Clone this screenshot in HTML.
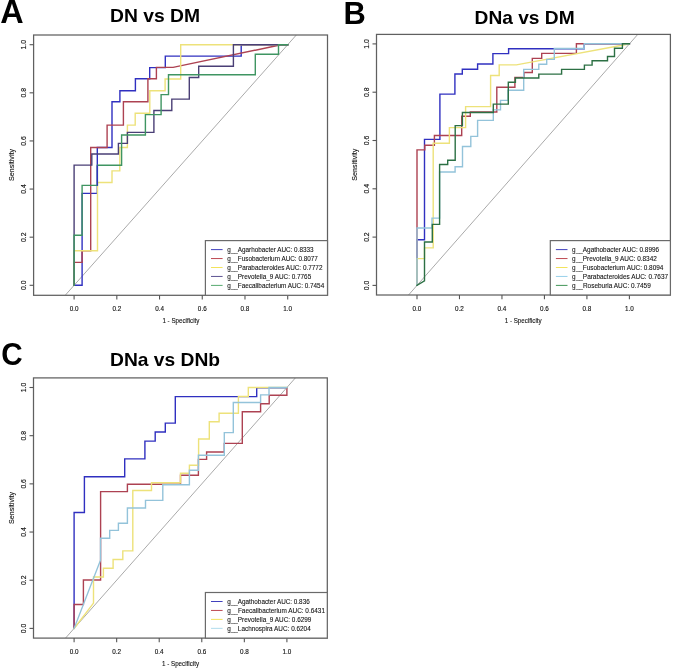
<!DOCTYPE html><html><head><meta charset="utf-8"><style>html,body{margin:0;padding:0;background:#fff;}svg{display:block;filter:blur(0.3px);}text{font-family:'Liberation Sans', sans-serif;}</style></head><body>
<svg width="673" height="670" viewBox="0 0 673 670">
<rect width="673" height="670" fill="#fff"/>
<text x="0.3" y="23.4" font-size="32.6" font-weight="bold" fill="#000" textLength="23.4" lengthAdjust="spacingAndGlyphs">A</text>
<text x="343.6" y="23.5" font-size="31.4" font-weight="bold" fill="#000" textLength="22.3" lengthAdjust="spacingAndGlyphs">B</text>
<text x="1.2" y="365.0" font-size="31" font-weight="bold" fill="#000" textLength="21.4" lengthAdjust="spacingAndGlyphs">C</text>
<text x="110.0" y="22.2" font-size="19" font-weight="bold" fill="#000" textLength="90" lengthAdjust="spacingAndGlyphs">DN vs DM</text>
<text x="474.6" y="24.2" font-size="19" font-weight="bold" fill="#000" textLength="100" lengthAdjust="spacingAndGlyphs">DNa vs DM</text>
<text x="110.0" y="366.4" font-size="19" font-weight="bold" fill="#000" textLength="110" lengthAdjust="spacingAndGlyphs">DNa vs DNb</text>
<clipPath id="clipA"><rect x="33.6" y="35.0" width="293.9" height="260.3"/></clipPath>
<line x1="52.74" y1="309.36" x2="309.06" y2="20.64" stroke="#aaaaaa" stroke-width="1.0" clip-path="url(#clipA)"/>
<path d="M74.1,285.3 L74.1,285.3 L82.1,285.3 L82.1,193.4 L97.3,193.4 L97.3,147.5 L112.0,147.5 L112.0,101.8 L119.9,101.8 L119.9,90.7 L135.4,90.7 L135.4,78.8 L149.7,78.8 L149.7,67.6 L165.3,67.6 L165.3,56.1 L241.2,56.1 L241.2,44.8 L287.7,44.8" fill="none" stroke="#3030c0" stroke-width="1.4" stroke-linejoin="miter" stroke-linecap="square"/>
<path d="M74.1,285.3 L74.1,262.4 L82.1,262.4 L82.1,250.7 L90.7,250.7 L90.7,147.5 L107.1,147.5 L107.1,125.1 L123.4,125.1 L123.4,101.7 L147.9,101.7 L147.9,78.8 L156.4,78.8 L156.4,67.4 L173.1,67.4 L281.0,44.8 L287.7,44.7" fill="none" stroke="#ad4252" stroke-width="1.4" stroke-linejoin="miter" stroke-linecap="square"/>
<path d="M74.1,285.3 L74.1,250.7 L97.5,250.7 L97.5,182.5 L112.0,182.5 L112.0,170.9 L119.8,170.9 L119.8,147.5 L127.4,147.5 L127.4,125.1 L135.2,125.1 L135.2,113.3 L149.8,113.3 L149.8,90.8 L165.1,90.8 L165.1,79.0 L180.7,79.0 L180.7,44.8 L287.7,44.8" fill="none" stroke="#ede27a" stroke-width="1.4" stroke-linejoin="miter" stroke-linecap="square"/>
<path d="M74.1,285.3 L74.1,165.1 L91.8,165.1 L91.8,154.0 L118.4,154.0 L118.4,143.4 L127.4,143.4 L127.4,132.4 L153.9,132.4 L153.9,110.5 L171.8,110.5 L171.8,99.1 L189.3,99.1 L189.3,77.5 L198.7,77.5 L198.7,66.2 L233.4,66.2 L233.4,44.8 L287.7,44.8" fill="none" stroke="#4a3f76" stroke-width="1.4" stroke-linejoin="miter" stroke-linecap="square"/>
<path d="M74.1,285.3 L74.1,235.2 L82.1,235.2 L82.1,185.4 L97.4,185.4 L97.4,165.3 L121.6,165.3 L121.6,135.0 L145.4,135.0 L145.4,114.6 L161.1,114.6 L161.1,94.6 L168.5,94.6 L168.5,74.8 L255.3,74.8 L255.3,54.2 L278.5,54.2 L278.5,44.8 L287.7,44.8" fill="none" stroke="#3f9562" stroke-width="1.4" stroke-linejoin="miter" stroke-linecap="square"/>
<path d="M97.3,185.0 L97.3,166.0" fill="none" stroke="#3030c0" stroke-width="1.3" stroke-linejoin="miter" stroke-linecap="square"/>
<rect x="33.6" y="35.0" width="293.90" height="260.30" fill="none" stroke="#606060" stroke-width="1.25"/>
<line x1="74.10" y1="295.3" x2="74.10" y2="299.50" stroke="#555" stroke-width="1.1"/>
<line x1="29.60" y1="285.30" x2="33.6" y2="285.30" stroke="#555" stroke-width="1.1"/>
<text x="74.10" y="310.90" font-size="7.6" fill="#111" stroke="#111" stroke-width="0.15" text-anchor="middle" textLength="8.8" lengthAdjust="spacingAndGlyphs">0.0</text>
<text transform="translate(25.60,285.30) rotate(-90)" x="0" y="0" font-size="7.6" fill="#111" stroke="#111" stroke-width="0.15" text-anchor="middle" textLength="9.5" lengthAdjust="spacingAndGlyphs">0.0</text>
<line x1="116.82" y1="295.3" x2="116.82" y2="299.50" stroke="#555" stroke-width="1.1"/>
<line x1="29.60" y1="237.18" x2="33.6" y2="237.18" stroke="#555" stroke-width="1.1"/>
<text x="116.82" y="310.90" font-size="7.6" fill="#111" stroke="#111" stroke-width="0.15" text-anchor="middle" textLength="8.8" lengthAdjust="spacingAndGlyphs">0.2</text>
<text transform="translate(25.60,237.18) rotate(-90)" x="0" y="0" font-size="7.6" fill="#111" stroke="#111" stroke-width="0.15" text-anchor="middle" textLength="9.5" lengthAdjust="spacingAndGlyphs">0.2</text>
<line x1="159.54" y1="295.3" x2="159.54" y2="299.50" stroke="#555" stroke-width="1.1"/>
<line x1="29.60" y1="189.06" x2="33.6" y2="189.06" stroke="#555" stroke-width="1.1"/>
<text x="159.54" y="310.90" font-size="7.6" fill="#111" stroke="#111" stroke-width="0.15" text-anchor="middle" textLength="8.8" lengthAdjust="spacingAndGlyphs">0.4</text>
<text transform="translate(25.60,189.06) rotate(-90)" x="0" y="0" font-size="7.6" fill="#111" stroke="#111" stroke-width="0.15" text-anchor="middle" textLength="9.5" lengthAdjust="spacingAndGlyphs">0.4</text>
<line x1="202.26" y1="295.3" x2="202.26" y2="299.50" stroke="#555" stroke-width="1.1"/>
<line x1="29.60" y1="140.94" x2="33.6" y2="140.94" stroke="#555" stroke-width="1.1"/>
<text x="202.26" y="310.90" font-size="7.6" fill="#111" stroke="#111" stroke-width="0.15" text-anchor="middle" textLength="8.8" lengthAdjust="spacingAndGlyphs">0.6</text>
<text transform="translate(25.60,140.94) rotate(-90)" x="0" y="0" font-size="7.6" fill="#111" stroke="#111" stroke-width="0.15" text-anchor="middle" textLength="9.5" lengthAdjust="spacingAndGlyphs">0.6</text>
<line x1="244.98" y1="295.3" x2="244.98" y2="299.50" stroke="#555" stroke-width="1.1"/>
<line x1="29.60" y1="92.82" x2="33.6" y2="92.82" stroke="#555" stroke-width="1.1"/>
<text x="244.98" y="310.90" font-size="7.6" fill="#111" stroke="#111" stroke-width="0.15" text-anchor="middle" textLength="8.8" lengthAdjust="spacingAndGlyphs">0.8</text>
<text transform="translate(25.60,92.82) rotate(-90)" x="0" y="0" font-size="7.6" fill="#111" stroke="#111" stroke-width="0.15" text-anchor="middle" textLength="9.5" lengthAdjust="spacingAndGlyphs">0.8</text>
<line x1="287.70" y1="295.3" x2="287.70" y2="299.50" stroke="#555" stroke-width="1.1"/>
<line x1="29.60" y1="44.70" x2="33.6" y2="44.70" stroke="#555" stroke-width="1.1"/>
<text x="287.70" y="310.90" font-size="7.6" fill="#111" stroke="#111" stroke-width="0.15" text-anchor="middle" textLength="8.8" lengthAdjust="spacingAndGlyphs">1.0</text>
<text transform="translate(25.60,44.70) rotate(-90)" x="0" y="0" font-size="7.6" fill="#111" stroke="#111" stroke-width="0.15" text-anchor="middle" textLength="9.5" lengthAdjust="spacingAndGlyphs">1.0</text>
<text x="180.90" y="323.30" font-size="7.6" fill="#111" stroke="#111" stroke-width="0.12" text-anchor="middle" textLength="37" lengthAdjust="spacingAndGlyphs">1 - Specificity</text>
<text transform="translate(14.20,165.00) rotate(-90)" x="0" y="0" font-size="7.6" fill="#111" stroke="#111" stroke-width="0.12" text-anchor="middle" textLength="32" lengthAdjust="spacingAndGlyphs">Sensitivity</text>
<rect x="205.4" y="240.6" width="122.10" height="54.70" fill="#fff" stroke="#6a6a6a" stroke-width="1.2"/>
<line x1="211.00" y1="249.60" x2="222.60" y2="249.60" stroke="#2b2bb5" stroke-width="0.9"/>
<text x="227.20" y="252.40" font-size="7.7" fill="#111" stroke="#111" stroke-width="0.1" textLength="86.3" lengthAdjust="spacingAndGlyphs">g__Agarhobacter AUC: 0.8333</text>
<line x1="211.00" y1="258.55" x2="222.60" y2="258.55" stroke="#b5343e" stroke-width="0.9"/>
<text x="227.20" y="261.35" font-size="7.7" fill="#111" stroke="#111" stroke-width="0.1" textLength="90.7" lengthAdjust="spacingAndGlyphs">g__Fusobacterium AUC: 0.8077</text>
<line x1="211.00" y1="267.50" x2="222.60" y2="267.50" stroke="#f0e04a" stroke-width="0.9"/>
<text x="227.20" y="270.30" font-size="7.7" fill="#111" stroke="#111" stroke-width="0.1" textLength="95.3" lengthAdjust="spacingAndGlyphs">g__Parabacteroides AUC: 0.7772</text>
<line x1="211.00" y1="276.45" x2="222.60" y2="276.45" stroke="#4a3f85" stroke-width="0.9"/>
<text x="227.20" y="279.25" font-size="7.7" fill="#111" stroke="#111" stroke-width="0.1" textLength="84.0" lengthAdjust="spacingAndGlyphs">g__Prevotella_9 AUC: 0.7765</text>
<line x1="211.00" y1="285.40" x2="222.60" y2="285.40" stroke="#44a060" stroke-width="0.9"/>
<text x="227.20" y="288.20" font-size="7.7" fill="#111" stroke="#111" stroke-width="0.1" textLength="97.0" lengthAdjust="spacingAndGlyphs">g__Faecalibacterium AUC: 0.7454</text>
<clipPath id="clipB"><rect x="376.5" y="34.4" width="293.9" height="260.6"/></clipPath>
<line x1="395.76" y1="309.55" x2="650.64" y2="19.75" stroke="#aaaaaa" stroke-width="1.0" clip-path="url(#clipB)"/>
<path d="M417.0,285.4 L417.0,239.8 L424.5,239.8 L424.5,139.4 L439.9,139.4 L439.9,94.1 L454.9,94.1 L454.9,74.0 L462.3,74.0 L462.3,69.3 L477.6,69.3 L477.6,64.0 L492.9,64.0 L492.9,53.6 L508.6,53.6 L508.6,48.7 L584.2,48.7 L584.2,43.8 L629.4,43.8" fill="none" stroke="#3030c0" stroke-width="1.4" stroke-linejoin="miter" stroke-linecap="square"/>
<path d="M417.0,285.4 L417.0,149.9 L424.8,149.9 L424.8,145.3 L434.4,145.3 L434.4,135.5 L461.7,135.5 L461.7,116.2 L470.3,116.2 L470.3,112.0 L496.8,112.0 L496.8,87.2 L514.9,87.2 L514.9,77.4 L524.0,77.4 L524.0,72.5 L532.3,72.5 L532.3,58.4 L541.7,58.4 L541.7,53.4 L576.4,53.4 L576.4,43.8 L629.4,43.8" fill="none" stroke="#ad4252" stroke-width="1.4" stroke-linejoin="miter" stroke-linecap="square"/>
<path d="M417.0,285.4 L417.0,258.6 L424.5,258.6 L424.5,247.9 L433.2,247.9 L433.2,143.2 L449.4,143.2 L449.4,127.6 L465.6,127.6 L465.6,106.6 L490.6,106.6 L490.6,75.5 L499.2,75.5 L499.2,64.9 L516.4,64.9 L629.4,43.9" fill="none" stroke="#ede27a" stroke-width="1.4" stroke-linejoin="miter" stroke-linecap="square"/>
<path d="M417.0,285.4 L417.0,228.0 L432.0,228.0 L432.0,218.1 L439.6,218.1 L439.6,172.0 L455.1,172.0 L455.1,166.8 L462.5,166.8 L462.5,146.5 L470.8,146.5 L470.8,136.4 L477.6,136.4 L477.6,120.4 L493.3,120.4 L493.3,109.9 L500.5,109.9 L500.5,100.4 L508.0,100.4 L508.0,90.2 L523.7,90.2 L523.7,69.4 L538.8,69.4 L538.8,64.3 L546.7,64.3 L546.7,59.4 L554.3,59.4 L554.3,48.5 L584.2,48.5 L584.2,43.8 L629.4,43.8" fill="none" stroke="#93c3da" stroke-width="1.4" stroke-linejoin="miter" stroke-linecap="square"/>
<path d="M417.0,285.4 L424.5,280.8 L424.5,242.0 L432.3,242.0 L432.3,224.4 L439.6,224.4 L439.6,164.5 L447.7,164.5 L447.7,160.2 L455.2,160.2 L455.2,125.6 L462.4,125.6 L462.4,112.5 L493.3,112.5 L493.3,104.1 L508.3,104.1 L508.3,82.3 L515.4,82.3 L515.4,78.0 L538.8,78.0 L538.8,74.1 L561.6,74.1 L561.6,69.4 L584.4,69.4 L584.4,65.1 L592.1,65.1 L592.1,60.8 L607.5,60.8 L607.5,56.5 L614.5,56.5 L614.5,48.2 L622.4,48.2 L622.4,43.8 L629.4,43.8" fill="none" stroke="#2c7044" stroke-width="1.4" stroke-linejoin="miter" stroke-linecap="square"/>
<rect x="376.5" y="34.4" width="293.90" height="260.60" fill="none" stroke="#606060" stroke-width="1.25"/>
<line x1="417.00" y1="295.0" x2="417.00" y2="299.20" stroke="#555" stroke-width="1.1"/>
<line x1="372.50" y1="285.40" x2="376.5" y2="285.40" stroke="#555" stroke-width="1.1"/>
<text x="417.00" y="310.60" font-size="7.6" fill="#111" stroke="#111" stroke-width="0.15" text-anchor="middle" textLength="8.8" lengthAdjust="spacingAndGlyphs">0.0</text>
<text transform="translate(368.50,285.40) rotate(-90)" x="0" y="0" font-size="7.6" fill="#111" stroke="#111" stroke-width="0.15" text-anchor="middle" textLength="9.5" lengthAdjust="spacingAndGlyphs">0.0</text>
<line x1="459.48" y1="295.0" x2="459.48" y2="299.20" stroke="#555" stroke-width="1.1"/>
<line x1="372.50" y1="237.10" x2="376.5" y2="237.10" stroke="#555" stroke-width="1.1"/>
<text x="459.48" y="310.60" font-size="7.6" fill="#111" stroke="#111" stroke-width="0.15" text-anchor="middle" textLength="8.8" lengthAdjust="spacingAndGlyphs">0.2</text>
<text transform="translate(368.50,237.10) rotate(-90)" x="0" y="0" font-size="7.6" fill="#111" stroke="#111" stroke-width="0.15" text-anchor="middle" textLength="9.5" lengthAdjust="spacingAndGlyphs">0.2</text>
<line x1="501.96" y1="295.0" x2="501.96" y2="299.20" stroke="#555" stroke-width="1.1"/>
<line x1="372.50" y1="188.80" x2="376.5" y2="188.80" stroke="#555" stroke-width="1.1"/>
<text x="501.96" y="310.60" font-size="7.6" fill="#111" stroke="#111" stroke-width="0.15" text-anchor="middle" textLength="8.8" lengthAdjust="spacingAndGlyphs">0.4</text>
<text transform="translate(368.50,188.80) rotate(-90)" x="0" y="0" font-size="7.6" fill="#111" stroke="#111" stroke-width="0.15" text-anchor="middle" textLength="9.5" lengthAdjust="spacingAndGlyphs">0.4</text>
<line x1="544.44" y1="295.0" x2="544.44" y2="299.20" stroke="#555" stroke-width="1.1"/>
<line x1="372.50" y1="140.50" x2="376.5" y2="140.50" stroke="#555" stroke-width="1.1"/>
<text x="544.44" y="310.60" font-size="7.6" fill="#111" stroke="#111" stroke-width="0.15" text-anchor="middle" textLength="8.8" lengthAdjust="spacingAndGlyphs">0.6</text>
<text transform="translate(368.50,140.50) rotate(-90)" x="0" y="0" font-size="7.6" fill="#111" stroke="#111" stroke-width="0.15" text-anchor="middle" textLength="9.5" lengthAdjust="spacingAndGlyphs">0.6</text>
<line x1="586.92" y1="295.0" x2="586.92" y2="299.20" stroke="#555" stroke-width="1.1"/>
<line x1="372.50" y1="92.20" x2="376.5" y2="92.20" stroke="#555" stroke-width="1.1"/>
<text x="586.92" y="310.60" font-size="7.6" fill="#111" stroke="#111" stroke-width="0.15" text-anchor="middle" textLength="8.8" lengthAdjust="spacingAndGlyphs">0.8</text>
<text transform="translate(368.50,92.20) rotate(-90)" x="0" y="0" font-size="7.6" fill="#111" stroke="#111" stroke-width="0.15" text-anchor="middle" textLength="9.5" lengthAdjust="spacingAndGlyphs">0.8</text>
<line x1="629.40" y1="295.0" x2="629.40" y2="299.20" stroke="#555" stroke-width="1.1"/>
<line x1="372.50" y1="43.90" x2="376.5" y2="43.90" stroke="#555" stroke-width="1.1"/>
<text x="629.40" y="310.60" font-size="7.6" fill="#111" stroke="#111" stroke-width="0.15" text-anchor="middle" textLength="8.8" lengthAdjust="spacingAndGlyphs">1.0</text>
<text transform="translate(368.50,43.90) rotate(-90)" x="0" y="0" font-size="7.6" fill="#111" stroke="#111" stroke-width="0.15" text-anchor="middle" textLength="9.5" lengthAdjust="spacingAndGlyphs">1.0</text>
<text x="523.20" y="323.00" font-size="7.6" fill="#111" stroke="#111" stroke-width="0.12" text-anchor="middle" textLength="37" lengthAdjust="spacingAndGlyphs">1 - Specificity</text>
<text transform="translate(357.10,164.65) rotate(-90)" x="0" y="0" font-size="7.6" fill="#111" stroke="#111" stroke-width="0.12" text-anchor="middle" textLength="32" lengthAdjust="spacingAndGlyphs">Sensitivity</text>
<rect x="550.3" y="240.6" width="120.10" height="54.40" fill="#fff" stroke="#6a6a6a" stroke-width="1.2"/>
<line x1="555.90" y1="249.60" x2="567.50" y2="249.60" stroke="#2b2bb5" stroke-width="0.9"/>
<text x="572.10" y="252.40" font-size="7.7" fill="#111" stroke="#111" stroke-width="0.1" textLength="87.0" lengthAdjust="spacingAndGlyphs">g__Agathobacter AUC: 0.8996</text>
<line x1="555.90" y1="258.55" x2="567.50" y2="258.55" stroke="#b5343e" stroke-width="0.9"/>
<text x="572.10" y="261.35" font-size="7.7" fill="#111" stroke="#111" stroke-width="0.1" textLength="84.7" lengthAdjust="spacingAndGlyphs">g__Prevotella_9 AUC: 0.8342</text>
<line x1="555.90" y1="267.50" x2="567.50" y2="267.50" stroke="#f0e04a" stroke-width="0.9"/>
<text x="572.10" y="270.30" font-size="7.7" fill="#111" stroke="#111" stroke-width="0.1" textLength="91.3" lengthAdjust="spacingAndGlyphs">g__Fusobacterium AUC: 0.8094</text>
<line x1="555.90" y1="276.45" x2="567.50" y2="276.45" stroke="#8ccbe8" stroke-width="0.9"/>
<text x="572.10" y="279.25" font-size="7.7" fill="#111" stroke="#111" stroke-width="0.1" textLength="96.0" lengthAdjust="spacingAndGlyphs">g__Parabacteroides AUC: 0.7637</text>
<line x1="555.90" y1="285.40" x2="567.50" y2="285.40" stroke="#2d8a45" stroke-width="0.9"/>
<text x="572.10" y="288.20" font-size="7.7" fill="#111" stroke="#111" stroke-width="0.1" textLength="78.7" lengthAdjust="spacingAndGlyphs">g__Roseburia AUC: 0.7459</text>
<clipPath id="clipC"><rect x="33.5" y="377.9" width="293.8" height="260.20000000000005"/></clipPath>
<line x1="52.82" y1="652.49" x2="308.18" y2="363.41" stroke="#aaaaaa" stroke-width="1.0" clip-path="url(#clipC)"/>
<path d="M74.1,628.4 L74.1,512.5 L84.4,512.5 L84.4,476.7 L124.7,476.7 L124.7,458.9 L144.9,458.9 L144.9,441.1 L155.2,441.1 L155.2,432.0 L165.3,432.0 L165.3,423.1 L175.3,423.1 L175.3,396.6 L256.7,396.6 L256.7,387.7 L286.9,387.7" fill="none" stroke="#3030c0" stroke-width="1.4" stroke-linejoin="miter" stroke-linecap="square"/>
<path d="M74.1,628.4 L74.1,604.5 L83.4,604.5 L83.4,580.0 L100.6,580.0 L100.6,491.6 L127.4,491.6 L127.4,484.3 L180.5,484.3 L180.5,475.2 L198.4,475.2 L198.4,459.4 L206.6,459.4 L206.6,452.0 L224.3,452.0 L224.3,443.4 L242.3,443.4 L242.3,411.7 L260.6,411.7 L260.6,403.7 L269.2,403.7 L269.2,395.3 L286.9,395.3 L286.9,387.6" fill="none" stroke="#ad4252" stroke-width="1.4" stroke-linejoin="miter" stroke-linecap="square"/>
<path d="M74.1,628.4 L93.5,603.1 L93.5,577.0 L103.4,577.0 L103.4,568.3 L113.1,568.3 L113.1,559.5 L122.8,559.5 L122.8,550.9 L132.8,550.9 L132.8,490.5 L151.5,490.5 L151.5,482.8 L180.5,482.8 L180.5,473.2 L189.4,473.2 L189.4,465.2 L198.6,465.2 L198.6,439.0 L209.3,439.0 L209.3,421.7 L219.1,421.7 L219.1,413.3 L238.4,413.3 L238.4,396.5 L248.3,396.5 L248.3,387.5 L286.9,387.5" fill="none" stroke="#ede27a" stroke-width="1.4" stroke-linejoin="miter" stroke-linecap="square"/>
<path d="M74.1,628.4 L100.5,560.2 L100.5,538.3 L109.7,538.3 L109.7,530.4 L118.4,530.4 L118.4,523.2 L127.4,523.2 L127.4,508.0 L145.5,508.0 L145.5,500.4 L162.8,500.4 L162.8,484.8 L189.4,484.8 L189.4,470.2 L198.4,470.2 L198.4,455.2 L224.3,455.2 L224.3,432.6 L233.3,432.6 L233.3,402.5 L260.6,402.5 L260.6,394.9 L269.0,394.9 L269.0,387.5 L286.9,387.5" fill="none" stroke="#93c3da" stroke-width="1.4" stroke-linejoin="miter" stroke-linecap="square"/>
<rect x="33.5" y="377.9" width="293.80" height="260.20" fill="none" stroke="#606060" stroke-width="1.25"/>
<line x1="74.10" y1="638.1" x2="74.10" y2="642.30" stroke="#555" stroke-width="1.1"/>
<line x1="29.50" y1="628.40" x2="33.5" y2="628.40" stroke="#555" stroke-width="1.1"/>
<text x="74.10" y="653.70" font-size="7.6" fill="#111" stroke="#111" stroke-width="0.15" text-anchor="middle" textLength="8.8" lengthAdjust="spacingAndGlyphs">0.0</text>
<text transform="translate(25.50,628.40) rotate(-90)" x="0" y="0" font-size="7.6" fill="#111" stroke="#111" stroke-width="0.15" text-anchor="middle" textLength="9.5" lengthAdjust="spacingAndGlyphs">0.0</text>
<line x1="116.66" y1="638.1" x2="116.66" y2="642.30" stroke="#555" stroke-width="1.1"/>
<line x1="29.50" y1="580.22" x2="33.5" y2="580.22" stroke="#555" stroke-width="1.1"/>
<text x="116.66" y="653.70" font-size="7.6" fill="#111" stroke="#111" stroke-width="0.15" text-anchor="middle" textLength="8.8" lengthAdjust="spacingAndGlyphs">0.2</text>
<text transform="translate(25.50,580.22) rotate(-90)" x="0" y="0" font-size="7.6" fill="#111" stroke="#111" stroke-width="0.15" text-anchor="middle" textLength="9.5" lengthAdjust="spacingAndGlyphs">0.2</text>
<line x1="159.22" y1="638.1" x2="159.22" y2="642.30" stroke="#555" stroke-width="1.1"/>
<line x1="29.50" y1="532.04" x2="33.5" y2="532.04" stroke="#555" stroke-width="1.1"/>
<text x="159.22" y="653.70" font-size="7.6" fill="#111" stroke="#111" stroke-width="0.15" text-anchor="middle" textLength="8.8" lengthAdjust="spacingAndGlyphs">0.4</text>
<text transform="translate(25.50,532.04) rotate(-90)" x="0" y="0" font-size="7.6" fill="#111" stroke="#111" stroke-width="0.15" text-anchor="middle" textLength="9.5" lengthAdjust="spacingAndGlyphs">0.4</text>
<line x1="201.78" y1="638.1" x2="201.78" y2="642.30" stroke="#555" stroke-width="1.1"/>
<line x1="29.50" y1="483.86" x2="33.5" y2="483.86" stroke="#555" stroke-width="1.1"/>
<text x="201.78" y="653.70" font-size="7.6" fill="#111" stroke="#111" stroke-width="0.15" text-anchor="middle" textLength="8.8" lengthAdjust="spacingAndGlyphs">0.6</text>
<text transform="translate(25.50,483.86) rotate(-90)" x="0" y="0" font-size="7.6" fill="#111" stroke="#111" stroke-width="0.15" text-anchor="middle" textLength="9.5" lengthAdjust="spacingAndGlyphs">0.6</text>
<line x1="244.34" y1="638.1" x2="244.34" y2="642.30" stroke="#555" stroke-width="1.1"/>
<line x1="29.50" y1="435.68" x2="33.5" y2="435.68" stroke="#555" stroke-width="1.1"/>
<text x="244.34" y="653.70" font-size="7.6" fill="#111" stroke="#111" stroke-width="0.15" text-anchor="middle" textLength="8.8" lengthAdjust="spacingAndGlyphs">0.8</text>
<text transform="translate(25.50,435.68) rotate(-90)" x="0" y="0" font-size="7.6" fill="#111" stroke="#111" stroke-width="0.15" text-anchor="middle" textLength="9.5" lengthAdjust="spacingAndGlyphs">0.8</text>
<line x1="286.90" y1="638.1" x2="286.90" y2="642.30" stroke="#555" stroke-width="1.1"/>
<line x1="29.50" y1="387.50" x2="33.5" y2="387.50" stroke="#555" stroke-width="1.1"/>
<text x="286.90" y="653.70" font-size="7.6" fill="#111" stroke="#111" stroke-width="0.15" text-anchor="middle" textLength="8.8" lengthAdjust="spacingAndGlyphs">1.0</text>
<text transform="translate(25.50,387.50) rotate(-90)" x="0" y="0" font-size="7.6" fill="#111" stroke="#111" stroke-width="0.15" text-anchor="middle" textLength="9.5" lengthAdjust="spacingAndGlyphs">1.0</text>
<text x="180.50" y="666.10" font-size="7.6" fill="#111" stroke="#111" stroke-width="0.12" text-anchor="middle" textLength="37" lengthAdjust="spacingAndGlyphs">1 - Specificity</text>
<text transform="translate(14.10,507.95) rotate(-90)" x="0" y="0" font-size="7.6" fill="#111" stroke="#111" stroke-width="0.12" text-anchor="middle" textLength="32" lengthAdjust="spacingAndGlyphs">Sensitivity</text>
<rect x="205.4" y="592.5" width="121.90" height="45.60" fill="#fff" stroke="#6a6a6a" stroke-width="1.2"/>
<line x1="211.00" y1="601.50" x2="222.60" y2="601.50" stroke="#2b2bb5" stroke-width="0.9"/>
<text x="227.20" y="604.30" font-size="7.7" fill="#111" stroke="#111" stroke-width="0.1" textLength="82.5" lengthAdjust="spacingAndGlyphs">g__Agathobacter AUC: 0.836</text>
<line x1="211.00" y1="610.45" x2="222.60" y2="610.45" stroke="#b5343e" stroke-width="0.9"/>
<text x="227.20" y="613.25" font-size="7.7" fill="#111" stroke="#111" stroke-width="0.1" textLength="97.8" lengthAdjust="spacingAndGlyphs">g__Faecalibacterium AUC: 0.6431</text>
<line x1="211.00" y1="619.40" x2="222.60" y2="619.40" stroke="#f0e04a" stroke-width="0.9"/>
<text x="227.20" y="622.20" font-size="7.7" fill="#111" stroke="#111" stroke-width="0.1" textLength="84.2" lengthAdjust="spacingAndGlyphs">g__Prevotella_9 AUC: 0.6299</text>
<line x1="211.00" y1="628.35" x2="222.60" y2="628.35" stroke="#a8d8ea" stroke-width="0.9"/>
<text x="227.20" y="631.15" font-size="7.7" fill="#111" stroke="#111" stroke-width="0.1" textLength="83.5" lengthAdjust="spacingAndGlyphs">g__Lachnospira AUC: 0.6204</text>
</svg></body></html>
